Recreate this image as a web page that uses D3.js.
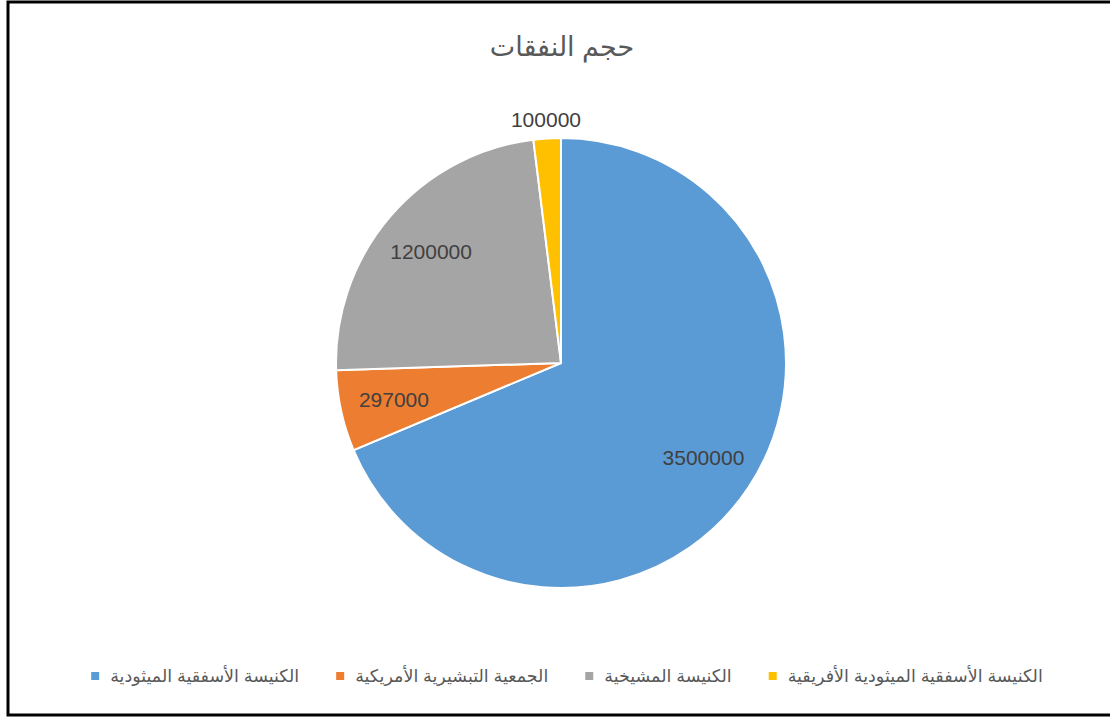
<!DOCTYPE html>
<html><head><meta charset="utf-8">
<script src="https://cdn.jsdelivr.net/npm/d3@7"></script>
<style>body{margin:0;background:#fff}svg{display:block}</style>
</head><body>
<svg id="c" width="1110" height="717"></svg>
<script>
const title = "حجم النفقات";
const categories = ["الكنيسة الأسفقية الميثودية","الجمعية التبشيرية الأمريكية","الكنيسة المشيخية","الكنيسة الأسفقية الميثودية الأفريقية"];
const values = [3500000, 297000, 1200000, 100000];
const colors = ["#5B9BD5","#ED7D31","#A5A5A5","#FFC000"];

const font = "'Liberation Sans', 'DejaVu Sans', sans-serif";
const svg = d3.select("#c");
svg.append("rect").attr("x",8).attr("y",2).attr("width",1110).attr("height",713)
  .attr("fill","#fff").attr("stroke","#000").attr("stroke-width",3);

svg.append("text").attr("x",562).attr("y",56).attr("text-anchor","middle")
  .attr("font-family",font).attr("font-size",27).attr("fill","#595959").text(title);

const cx=561, cy=363, r=225;
const pie = d3.pie().sort(null).value(d=>d)(values);
const arc = d3.arc().innerRadius(0).outerRadius(r);
const g = svg.append("g").attr("transform",`translate(${cx},${cy})`);
g.selectAll("path").data(pie).join("path").attr("d",arc)
  .attr("fill",(d,i)=>colors[i]).attr("stroke","#fff").attr("stroke-width",2);

const inArc = d3.arc().innerRadius(r*0.76).outerRadius(r*0.76);
const outArc = d3.arc().innerRadius(r+19).outerRadius(r+19);
g.selectAll("text.l").data(pie).join("text").attr("class","l")
  .attr("transform",d=>{const a=(d.endAngle-d.startAngle)<0.3?outArc:inArc;const p=a.centroid(d);return `translate(${p[0]},${p[1]})`;})
  .attr("text-anchor","middle").attr("dy","0.36em")
  .attr("font-family",font).attr("font-size",21).attr("fill","#404040")
  .text(d=>d.data);

// legend
const lg = svg.append("g");
const items = lg.selectAll("g").data(categories).join("g");
items.append("rect").attr("width",8).attr("height",8).attr("y",-4).attr("fill",(d,i)=>colors[i]);
const texts = items.append("text").attr("x",0).attr("dy","0.35em")
  .attr("font-family",font).attr("font-size",17.5).attr("fill","#595959").text(d=>d);
const widths = [];
texts.each(function(){widths.push(this.getComputedTextLength());});
const mGap=11, iGap=37;
let total = 0;
widths.forEach((w,i)=>{total += 8+mGap+w + (i<widths.length-1?iGap:0);});
let x = 567 - total/2;
items.each(function(d,i){
  d3.select(this).attr("transform",`translate(${x},676)`);
  d3.select(this).select("text").attr("x",8+mGap).attr("text-anchor","start").attr("direction","ltr");
  x += 8+mGap+widths[i]+iGap;
});
</script>
</body></html>
